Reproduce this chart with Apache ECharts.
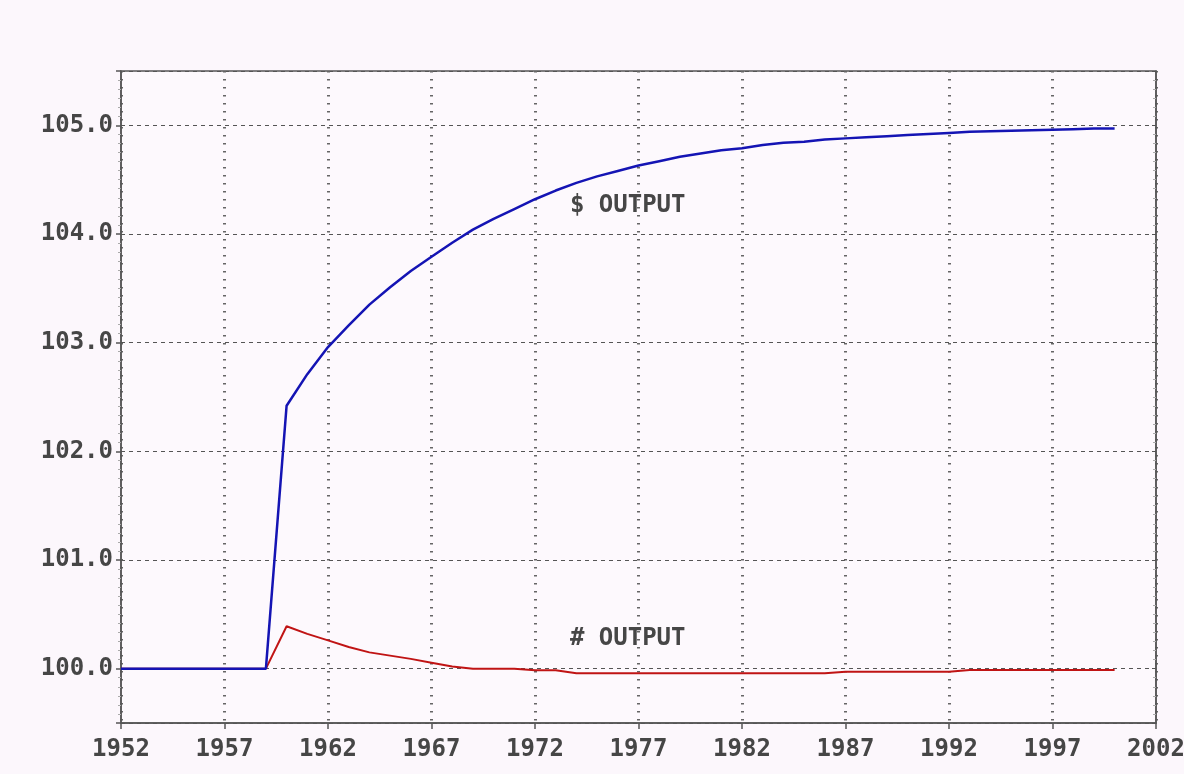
<!DOCTYPE html>
<html>
<head>
<meta charset="utf-8">
<script src="https://cdn.jsdelivr.net/npm/echarts@6/dist/echarts.min.js"></script>
<style>
  html, body { margin: 0; padding: 0; background: #fcf7fc; }
  #chart { width: 1184px; height: 774px; }
</style>
</head>
<body>
<div id="chart"></div>
<script>
// years on the x axis, 1952 .. 2002
const years = [];
for (let y = 1952; y <= 2002; y++) years.push(String(y));

// $ OUTPUT, 1952 .. 2000
const dollarOutput = [
  100, 100, 100, 100, 100, 100, 100, 100,
  102.42, 102.71, 102.96, 103.16, 103.35, 103.51, 103.66, 103.79, 103.92, 104.04,
  104.14, 104.23, 104.32, 104.40, 104.47, 104.53, 104.58, 104.63, 104.67, 104.71,
  104.74, 104.77, 104.79, 104.82, 104.84, 104.85, 104.87, 104.88, 104.89, 104.90,
  104.91, 104.92, 104.93, 104.94, 104.945, 104.95, 104.955, 104.96, 104.965, 104.97,
  104.97
];

// # OUTPUT, 1952 .. 2000
const numberOutput = [
  100, 100, 100, 100, 100, 100, 100, 100,
  100.39, 100.32, 100.26, 100.20, 100.15, 100.12, 100.09, 100.055, 100.02, 100.0,
  100.0, 100.0, 99.985, 99.985, 99.957, 99.957, 99.957, 99.957, 99.957, 99.957,
  99.957, 99.957, 99.957, 99.957, 99.957, 99.957, 99.957, 99.972, 99.972, 99.972,
  99.972, 99.972, 99.972, 99.988, 99.988, 99.988, 99.988, 99.988, 99.988, 99.988,
  99.988
];

// in-plot series labels: text, anchor year, y value
const labelTexts = ['$ OUTPUT', '# OUTPUT'];
const labelYears = ['1974', '1974'];
const labelY = [104.26, 100.275];

const FONT = 'DejaVu Sans Mono';
const TEXT = '#464646';

const chart = echarts.init(document.getElementById('chart'), null, { renderer: 'canvas' });

function tag(i) {
  return {
    coord: [labelYears[i], labelY[i]],
    symbol: 'circle',
    symbolSize: 1,
    itemStyle: { color: 'transparent' },
    label: {
      show: true,
      position: 'right',
      distance: 0,
      offset: [-7, 0],
      formatter: labelTexts[i],
      color: TEXT,
      fontFamily: FONT,
      fontWeight: 'bold',
      fontSize: 24
    }
  };
}

chart.setOption({
  backgroundColor: '#fcf7fc',
  animation: false,
  grid: {
    left: 121, right: 28, top: 71, bottom: 51,
    outerBoundsMode: 'none',
    containLabel: false,
    show: true,
    borderColor: '#555',
    borderWidth: 1.5,
    backgroundColor: '#fdf9fd'
  },
  xAxis: {
    type: 'category',
    data: years,
    boundaryGap: false,
    axisLine: { lineStyle: { color: '#555', width: 1.5 } },
    axisTick: { interval: 4, length: 6, lineStyle: { color: '#555', width: 1.5 } },
    axisLabel: {
      interval: 4, margin: 15,
      color: TEXT, fontFamily: FONT, fontWeight: 'bold', fontSize: 24
    },
    splitLine: {
      show: true, interval: 4,
      lineStyle: { color: '#666', width: 3, type: [1.5, 6.5] }
    }
  },
  yAxis: [{
    type: 'value',
    min: 99.5, max: 105.5,
    splitNumber: 6, minInterval: 1, maxInterval: 1,
    axisLine: { show: true, lineStyle: { color: '#555', width: 1.5 } },
    axisTick: { show: true, length: 5, lineStyle: { color: '#555', width: 1.5 } },
    minorTick: { show: true, splitNumber: 12, length: 3, lineStyle: { color: '#aaa' } },
    axisLabel: {
      margin: 8, showMinLabel: false, showMaxLabel: false,
      formatter: v => v.toFixed(1),
      color: TEXT, fontFamily: FONT, fontWeight: 'bold', fontSize: 24
    },
    splitLine: { show: true, lineStyle: { color: '#555', width: 1, type: [4, 4] } }
  }, {
    type: 'value',
    position: 'right',
    min: 99.5, max: 105.5,
    splitNumber: 6, minInterval: 1, maxInterval: 1,
    axisLine: { show: true, lineStyle: { color: '#555', width: 1.5 } },
    axisTick: { show: true, inside: true, length: 4, lineStyle: { color: '#555' } },
    minorTick: { show: true, splitNumber: 12, length: 3, lineStyle: { color: '#aaa' } },
    axisLabel: { show: false },
    splitLine: { show: false }
  }],
  series: [{
    name: '# OUTPUT',
    type: 'line',
    data: numberOutput,
    symbol: 'none',
    lineStyle: { color: '#c01414', width: 2 },
    markPoint: { data: [tag(1)] },
    z: 3
  }, {
    name: '$ OUTPUT',
    type: 'line',
    data: dollarOutput,
    symbol: 'none',
    lineStyle: { color: '#1414b4', width: 2.5 },
    markPoint: { data: [tag(0)] },
    z: 4
  }]
});
</script>
</body>
</html>
